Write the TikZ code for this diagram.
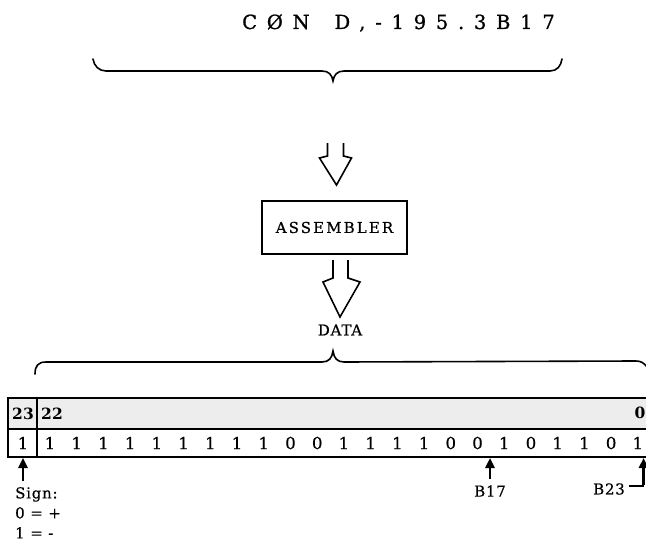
\documentclass[tikz,border=0pt]{standalone}
\usepackage{fontspec}
\setmainfont{DejaVu Serif}
\newfontfamily\codefont{DejaVu Serif}[LetterSpace=50, FakeBold=0.9]
\newfontfamily\asmfont{DejaVu Serif}[LetterSpace=14, FakeBold=0.5]
\newfontfamily\lblfont{DejaVu Serif}[LetterSpace=5, FakeBold=0.5]
\newfontfamily\bitfont{DejaVu Serif}[FakeBold=0.7]
\usetikzlibrary{arrows.meta}
\tikzset{
  lbl/.style={font=\lblfont\fontsize{15}{17}\selectfont, inner sep=0pt},
  bitlbl/.style={font=\bitfont\fontsize{16.5}{18}\selectfont, inner sep=0pt},
  hdr/.style={font=\bfseries\fontsize{15.5}{17}\selectfont, inner sep=0pt},
  hollow/.style={line width=1.6pt, line join=miter},
  bracepath/.style={line width=1.6pt, line cap=round},
  regline/.style={line width=1.6pt},
  ptr/.style={line width=2.4pt, -{Triangle[length=10pt,width=9pt]}},
  boxnode/.style={draw, line width=1.6pt, minimum width=145pt, minimum height=53pt,
    font=\asmfont\fontsize{15}{17}\selectfont, inner sep=0pt}
}
\begin{document}
\begin{tikzpicture}[x=1pt,y=-1pt]
\useasboundingbox (0,0) rectangle (646,543);
% source line
\node[anchor=base west, inner sep=0pt, font=\codefont\fontsize{19.5}{22}\selectfont] (code) at (242,29) {CØN\hspace{9pt} D,-195.3B17};
% top brace
\draw[bracepath] (93,59) .. controls (94,66) and (99,71) .. (106,71) -- (322,71)
  .. controls (329,71) and (332,75) .. (333,81)
  .. controls (334,75) and (337,71) .. (344,71) -- (550,71)
  .. controls (557,71) and (561,66) .. (562,59);
% assembler
\node[boxnode] (asm) at (334.5,227.5) {ASSEMBLER};
\coordinate (a1) at (335.5,143);
\draw[hollow] ([xshift=-8pt]a1) -- ++(0,13) -- ++(-8,2) -- ++(17,27) -- ++(15,-27) -- ++(-8,-2) -- ++(0,-13);
\coordinate (a2) at (340.5,260);
\draw[hollow] ([xshift=-7.5pt]a2) -- ++(0,18) -- ++(-10,4) -- ++(17,35) -- ++(20,-35) -- ++(-12,-4) -- ++(0,-18);
\node[lbl] (data) at (340,330) {DATA};
% lower brace
\draw[bracepath] (35,374) .. controls (35,366) and (38,362) .. (46,362) -- (322,362)
  .. controls (329,362) and (332,358) .. (333,351)
  .. controls (334,358) and (337,362) .. (344,362) -- (636,361)
  .. controls (641,361) and (644,363) .. (647,367);
% register
\fill[gray!14] (8,398) rectangle (660,429);
\draw[regline] (8,398) rectangle (660,457);
\draw[regline] (8,429) -- (660,429);
\draw[line width=2.6pt] (37,398) -- (37,457);
\node[hdr] (h23) at (23,414) {23};
\node[hdr] (h22) at (52,414) {22};
\node[hdr] (h0) at (640,413) {0};
\node[bitlbl] (s) at (23,443) {1};
\foreach \b [count=\i from 0] in {1,1,1,1,1,1,1,1,1,0,0,1,1,1,1,0,0,1,0,1,1,0,1}
  \node[bitlbl] (b\i) at (50+26.72*\i,443) {\b};
% pointers
\node[lbl, anchor=north west, align=left, font=\lblfont\fontsize{15}{20}\selectfont] (sign) at (15,487) {Sign:\\0 = +\\1 = -};
\coordinate (sp) at (23,481);
\draw[ptr] (sp) -- (sp |- 0,458);
\node[lbl] (b17) at (490,491) {B17};
\coordinate (p17) at (490,479);
\draw[ptr] (p17) -- (p17 |- 0,458);
\node[lbl] (b23) at (609,489) {B23};
\coordinate (p23) at (643.5,486);
\draw[line width=2.4pt] ([xshift=4pt]b23.east |- p23) -- (p23);
\draw[ptr] ([yshift=1.2pt]p23) -- (643.5,458);
\end{tikzpicture}
\end{document}
